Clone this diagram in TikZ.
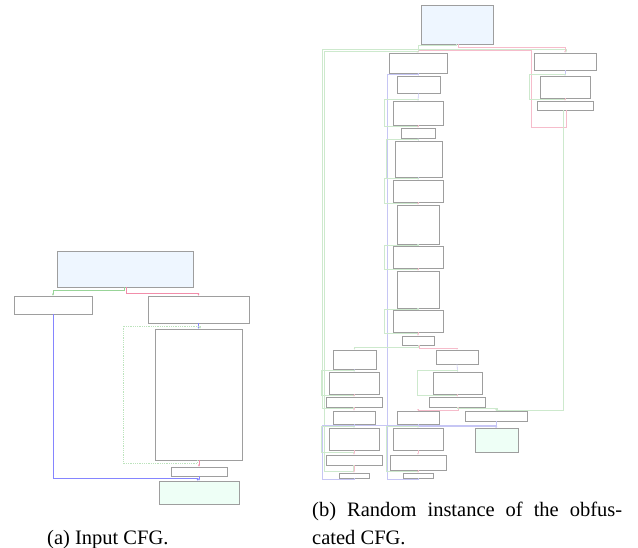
\documentclass[tikz,border=0pt]{standalone}
\usepackage{fontspec}
\setmainfont{Liberation Serif}
\usetikzlibrary{arrows.meta,shadows}
\definecolor{entryblue}{HTML}{EEF6FF}
\definecolor{exitgreen}{HTML}{EEFFF6}
\definecolor{tgreen}{HTML}{98D498}
\definecolor{tred}{HTML}{F28DAA}
\definecolor{tblue}{HTML}{8585FF}
\definecolor{lgreen}{HTML}{CDE9CD}
\definecolor{lred}{HTML}{F6BCCB}
\definecolor{lblue}{HTML}{C6C6F4}
\tikzset{
  blk/.style={draw=black!38, fill=white, line width=0.6pt, inner sep=0pt, drop shadow={shadow xshift=0.8pt, shadow yshift=-0.8pt, fill=black!50, opacity=0.9}},
  entryblk/.style={blk, fill=entryblue},
  exitblk/.style={blk, fill=exitgreen},
  gedgeA/.style={draw=tgreen, line width=0.8pt, -{Latex[length=2pt,width=2pt]}},
  redgeA/.style={draw=tred, line width=0.8pt, -{Latex[length=2pt,width=2pt]}},
  bedgeA/.style={draw=tblue, line width=0.8pt, -{Latex[length=2pt,width=2pt]}},
  gedge/.style={draw=lgreen, line width=0.6pt, -{Latex[length=1.6pt,width=1.6pt]}},
  redge/.style={draw=lred, line width=0.6pt, -{Latex[length=1.6pt,width=1.6pt]}},
  bedge/.style={draw=lblue, line width=0.6pt, -{Latex[length=1.6pt,width=1.6pt]}},
  capt/.style={font=\fontsize{20.5}{28}\selectfont, inner sep=0pt}
}

\begin{document}
\begin{tikzpicture}[x=1pt, y=-1pt]
  \useasboundingbox (0,0) rectangle (638,548);

  % (a) input CFG
  \node[entryblk, minimum width=136pt, minimum height=36pt] (inA) at (125,269) {};
  \node[blk, minimum width=78pt, minimum height=18pt] (bA) at (53,305) {};
  \node[blk, minimum width=101pt, minimum height=27pt] (bB) at (198.5,309.5) {};
  \node[blk, minimum width=87pt, minimum height=131pt] (bC) at (198.5,394.5) {};
  \node[blk, minimum width=56pt, minimum height=9pt] (bD) at (199,471.5) {};
  \node[exitblk, minimum width=80pt, minimum height=23pt] (exA) at (199,492.5) {};

  \draw[gedgeA] ([xshift=-1pt]inA.south) -- ++(0,3) -| (bA.north);
  \draw[redgeA] ([xshift=1.5pt]inA.south) -- ++(0,6.3) -| (bB.north);
  \draw[bedgeA] (bB.south) -- (bC.north);
  \draw[gedgeA, draw=tgreen!65, densely dotted] ([xshift=-1pt]bC.south) -- ++(0,3) -| (123,326) -| ([xshift=1.5pt]bC.north);
  \draw[redgeA] (bD.north |- bC.south) -- (bD.north);
  \draw[bedgeA] (bD.south) -- (exA.north);
  \draw[bedgeA] (bA.south) -- ++(0,164) -| ([xshift=-1.5pt]exA.north);

  % (b) obfuscated CFG
  \node[entryblk, minimum width=72pt, minimum height=39pt] (inB) at (457,24.5) {};
  \node[blk, minimum width=58pt, minimum height=20pt] (r1) at (418,63) {};
  \node[blk, minimum width=62pt, minimum height=17pt] (q1) at (565,61.5) {};
  \node[blk, minimum width=43pt, minimum height=17pt] (r2) at (418.5,84.5) {};
  \node[blk, minimum width=50pt, minimum height=22pt] (q2) at (565,87) {};
  \node[blk, minimum width=56pt, minimum height=9pt] (q3) at (565,105.5) {};
  \node[blk, minimum width=50pt, minimum height=24pt] (r3) at (418,113) {};
  \node[blk, minimum width=34pt, minimum height=10pt] (r4) at (418,133) {};
  \node[blk, minimum width=47pt, minimum height=36pt] (r5) at (418.5,159) {};
  \node[blk, minimum width=50pt, minimum height=22pt] (r6) at (418,191) {};
  \node[blk, minimum width=42pt, minimum height=39pt] (r7) at (418,224.5) {};
  \node[blk, minimum width=50pt, minimum height=22pt] (r8) at (418,257) {};
  \node[blk, minimum width=42pt, minimum height=37pt] (r9) at (418,289.5) {};
  \node[blk, minimum width=50pt, minimum height=22pt] (r10) at (418,321) {};
  \node[blk, minimum width=32pt, minimum height=9pt] (r11) at (418,340.5) {};
  \node[blk, minimum width=43pt, minimum height=19pt] (l1) at (354.5,359.5) {};
  \node[blk, minimum width=42pt, minimum height=14pt] (m1) at (457,357) {};
  \node[blk, minimum width=50pt, minimum height=22pt] (l2) at (354,383) {};
  \node[blk, minimum width=49pt, minimum height=22pt] (m2) at (457.5,383) {};
  \node[blk, minimum width=56pt, minimum height=10pt] (l3) at (354,402) {};
  \node[blk, minimum width=56pt, minimum height=10pt] (m3) at (457,402) {};
  \node[blk, minimum width=42pt, minimum height=13pt] (l4) at (354,417.5) {};
  \node[blk, minimum width=42pt, minimum height=13pt] (m4) at (418,417.5) {};
  \node[blk, minimum width=62pt, minimum height=10pt] (n4) at (496,416) {};
  \node[blk, minimum width=50pt, minimum height=22pt] (l5) at (354,439) {};
  \node[blk, minimum width=50pt, minimum height=22pt] (m5) at (418,439) {};
  \node[exitblk, minimum width=43pt, minimum height=24pt] (exB) at (496.5,440) {};
  \node[blk, minimum width=56pt, minimum height=10pt] (l6) at (354,460) {};
  \node[blk, minimum width=56pt, minimum height=15pt] (m6) at (418,462.5) {};
  \node[blk, minimum width=30pt, minimum height=5pt] (l7) at (354,475.5) {};
  \node[blk, minimum width=30pt, minimum height=5pt] (m7) at (418,475.5) {};

  % long back edges first
  \draw[gedge] ([xshift=-1pt]l3.south) -- ++(0,1.3) -| (322.3,49.3) -| ([xshift=1pt]q1.north);
  \draw[gedge] ([xshift=-1pt]l6.south) -- ++(0,6) -| (324.3,51.7) -| ([xshift=-1pt]r1.north);
  \draw[redge] ([xshift=1pt]q3.south) -- ++(0,16.7) -| (531.3,50.7) -| (r1.north);
  \draw[gedge] ([xshift=-2pt]q3.south) -- ++(0,300) -| (n4.north);
  \draw[bedge] (r1.south) -- ++(0,1.3) -| (387.3,426) -| (exB.north);
  \draw[bedge] (l7.south) -- ++(0,1.3) -| (322.3,425.3) -| ([xshift=-1pt]exB.north);
  \draw[bedge] (m7.south) -- ++(0,1.3) -| (387.3,426.5) -| (exB.north);

  \draw[gedge] ([xshift=-1pt]inB.south) -- ++(0,1.3) -| (r1.north);
  \draw[redge] ([xshift=1pt]inB.south) -- ++(0,3.3) -| (q1.north);
  \draw[bedge] (r1.south) -- (r2.north);
  \draw[bedge] (r2.south) -- (r3.north);
  \draw[gedge] (r3.south) -- ++(0,1) -| (384,99.3) -| (r3.north);
  \draw[redge] (r3.south) -- (r4.north);
  \draw[bedge] (r4.south) -- (r5.north);
  \draw[gedge] (r5.south) -- ++(0,1) -| (386,139.3) -| (r5.north);
  \draw[bedge] (r5.south) -- (r6.north);
  \draw[gedge] (r6.south) -- ++(0,1.3) -| (384,178.3) -| (r6.north);
  \draw[redge] (r6.south) -- (r7.north);
  \draw[bedge] (r7.south) -- (r8.north);
  \draw[gedge] (r8.south) -- ++(0,1.5) -| (384,245) -| (r8.north);
  \draw[redge] (r8.south) -- (r9.north);
  \draw[bedge] (r9.south) -- (r10.north);
  \draw[gedge] (r10.south) -- ++(0,1.5) -| (384,309) -| (r10.north);
  \draw[redge] (r10.south) -- (r11.north);
  \draw[gedge] (r11.south) -- ++(0,1.7) -| (l1.north);
  \draw[redge] ([xshift=1pt]r11.south) -- ++(0,3.3) -| (m1.north);

  \draw[bedge] (l1.south) -- (l2.north);
  \draw[gedge] (l2.south) -- ++(0,1) -| (321.7,370.7) -| (l2.north);
  \draw[redge] (l2.south) -- (l3.north);
  \draw[redge] (l3.south) -- (l4.north);
  \draw[bedge] (l4.south) -- (l5.north);
  \draw[gedge] (l5.south) -- ++(0,1.5) -| (321.7,426) -| (l5.north);
  \draw[redge] (l5.south) -- (l6.north);
  \draw[redge] (l6.south) -- (l7.north);

  \draw[bedge] (m1.south) -- (m2.north);
  \draw[gedge] (m2.south) -- ++(0,1) -| (417.3,370.7) -| (m2.north);
  \draw[redge] (m2.south) -- (m3.north);
  \draw[redge] ([xshift=1pt]m3.south) -- ++(0,3) -| (m4.north);
  \draw[gedge] (m3.south) -- ++(0,1.3) -| ([xshift=1pt]n4.north);
  \draw[bedge] (n4.south) -- (n4.south |- exB.north);
  \draw[bedge] (m4.south) -- (m5.north);
  \draw[gedge] (m6.south) -- ++(0,1) -| (386,426.7) -| (m5.north);
  \draw[redge] (m5.south) -- (m6.north);
  \draw[redge] (m6.south) -- (m7.north);

  \draw[bedge] (q1.south) -- (q2.north);
  \draw[gedge] (q2.south) -- ++(0,1.3) -| (529.3,74.3) -| (q2.north);
  \draw[redge] (q2.south) -- (q3.north);

  % captions
  \node[capt, anchor=base west] (capa) at (47,544) {(a) Input CFG.};
  \node[capt, anchor=base west] (capb1) at (312,516) {\makebox[310pt][s]{(b) Random instance of the obfus-}};
  \node[capt, anchor=base west] (capb2) at (312,544) {cated CFG.};
\end{tikzpicture}
\end{document}
